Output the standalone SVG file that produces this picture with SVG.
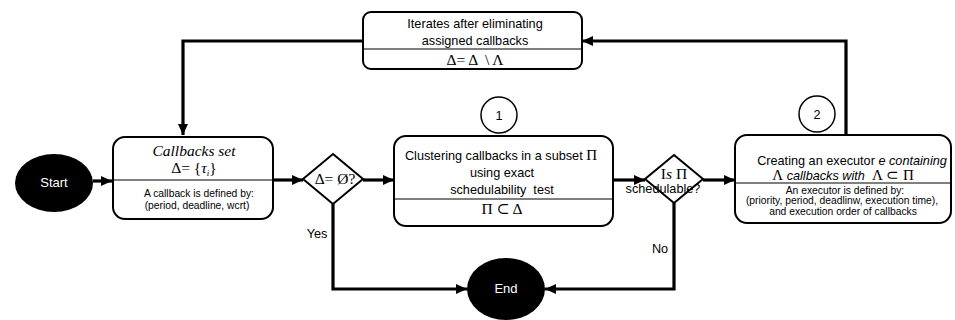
<svg xmlns="http://www.w3.org/2000/svg" width="955" height="320" viewBox="0 0 955 320">
<defs>
<style>
.box{fill:#fff;stroke:#000;stroke-width:2}
.div{stroke:#000;stroke-width:1.2}
.term{fill:#000}
.circ{fill:#fff;stroke:#000;stroke-width:1.5}
.conn{fill:none;stroke:#000;stroke-width:3.2}
text{white-space:pre}
.t{font-family:"Liberation Sans",Arial,sans-serif;font-size:12.7px;fill:#000;text-anchor:middle}
.s{font-family:"Liberation Sans",Arial,sans-serif;font-size:10.3px;fill:#000;text-anchor:middle}
.m{font-family:"Liberation Serif","DejaVu Serif",serif;font-size:15.5px;fill:#000;text-anchor:middle}
.w{font-family:"Liberation Sans",Arial,sans-serif;font-size:13px;fill:#fff;text-anchor:middle}
.i{font-style:italic}
</style>
<marker id="ah" markerUnits="userSpaceOnUse" markerWidth="12" markerHeight="12" viewBox="0 0 12 12" refX="11" refY="6" orient="auto">
<path d="M0,1 L11,6 L0,11 Z" fill="#000"/>
</marker>
</defs>
<g id="connectors">
<path class="conn" d="M93,181 L112,181" marker-end="url(#ah)"/>
<path class="conn" d="M273,180 L303,180" marker-end="url(#ah)"/>
<path class="conn" d="M363,180 L394,180" marker-end="url(#ah)"/>
<path class="conn" d="M613,180 L645,180" marker-end="url(#ah)"/>
<path class="conn" d="M703,180 L735,180" marker-end="url(#ah)"/>
<path class="conn" d="M846,135 L846,41 L582,41" marker-end="url(#ah)"/>
<path class="conn" d="M363,41 L183,41 L183,135" marker-end="url(#ah)"/>
<path class="conn" d="M333,204 L333,289 L467,289" marker-end="url(#ah)"/>
<path class="conn" d="M674,203 L674,289 L545,289" marker-end="url(#ah)"/>
<text class="t" x="317" y="238">Yes</text>
<text class="t" x="660" y="253">No</text>
</g>
<g id="start">
<ellipse class="term" cx="54" cy="183" rx="39" ry="29"/>
<text class="w" x="54" y="187">Start</text>
</g>
<g id="callbacks-set">
<rect class="box" x="113" y="137" width="160" height="82" rx="12"/>
<line class="div" x1="113" y1="180" x2="273" y2="180"/>
<text class="m i" x="194" y="156" font-size="15">Callbacks set</text>
<text class="m" x="194" y="173">Δ= {<tspan class="i">τ</tspan><tspan class="i" font-size="9" dy="3">i</tspan><tspan dy="-3">}</tspan></text>
<text class="s" x="199" y="197">A callback is defined by:</text>
<text class="s" x="197" y="209">(period, deadline, wcrt)</text>
</g>
<g id="decision-empty">
<polygon class="box" points="333,154 363,179 333,204 303,179"/>
<text class="m" x="335" y="184">Δ= Ø?</text>
</g>
<g id="clustering">
<rect class="box" x="394" y="136" width="219" height="90" rx="12"/>
<line class="div" x1="394" y1="199" x2="613" y2="199"/>
<text class="t" x="501" y="160">Clustering callbacks in a subset <tspan font-family="Liberation Serif,serif" font-size="15">Π</tspan></text>
<text class="t" x="502" y="177">using exact</text>
<text class="t" x="502" y="194">schedulability  test</text>
<text class="m" x="502" y="214">Π ⊂ Δ</text>
</g>
<g id="marker-1">
<circle class="circ" cx="499" cy="115" r="18"/>
<text class="t" x="499" y="120">1</text>
</g>
<g id="decision-schedulable">
<polygon class="box" points="674,155 703,179 674,203 645,179"/>
<text class="m" x="674" y="179" font-size="13">I<tspan class="i">s</tspan> Π</text>
<text class="t" x="663" y="193" font-size="11">schedulable?</text>
</g>
<g id="executor">
<rect class="box" x="735" y="135" width="216" height="88" rx="12"/>
<line class="div" x1="735" y1="183" x2="951" y2="183"/>
<text class="t" x="852" y="165" font-size="13.5">Creating an executor <tspan class="i">e containing</tspan></text>
<text class="t" x="843" y="180" font-size="13.5"><tspan font-family="Liberation Serif,serif" font-size="15">Λ</tspan> <tspan class="i">callbacks with</tspan>  <tspan font-family="Liberation Serif,serif" font-size="15">Λ ⊂ Π</tspan></text>
<text class="s" x="845" y="194">An executor is defined by:</text>
<text class="s" x="842" y="204">(priority, period, deadlinw, execution time),</text>
<text class="s" x="843" y="215">and execution order of callbacks</text>
</g>
<g id="marker-2">
<circle class="circ" cx="817" cy="114" r="18"/>
<text class="t" x="817" y="119">2</text>
</g>
<g id="iterates">
<rect class="box" x="363" y="12" width="219" height="57" rx="8"/>
<line class="div" x1="363" y1="49" x2="582" y2="49"/>
<text class="t" x="475" y="28">Iterates after eliminating</text>
<text class="t" x="475" y="45">assigned callbacks</text>
<text class="m" x="475" y="65">Δ= Δ  \ Λ</text>
</g>
<g id="end">
<ellipse class="term" cx="506" cy="289" rx="39" ry="31"/>
<text class="w" x="506" y="293">End</text>
</g>
</svg>
